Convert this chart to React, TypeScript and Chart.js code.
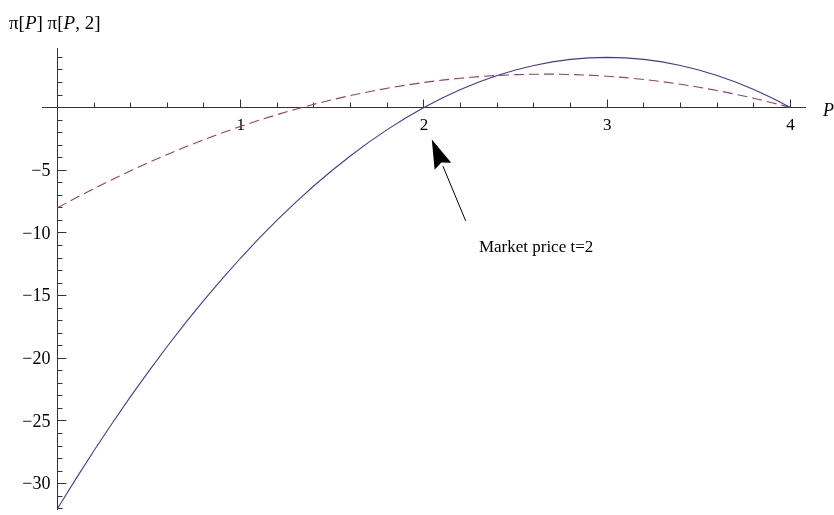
import React, { useEffect, useRef } from "react";
import { Chart, registerables } from "chart.js";

Chart.register(...registerables);

// ---- data ----
const priceP = [
  0, 0.1, 0.2, 0.3, 0.4, 0.5, 0.6, 0.7, 0.8, 0.9, 1.0, 1.1, 1.2, 1.3, 1.4, 1.5, 1.6, 1.7, 1.8, 1.9, 2.0,
  2.1, 2.2, 2.3, 2.4, 2.5, 2.6, 2.7, 2.8, 2.9, 3.0, 3.1, 3.2, 3.3, 3.4, 3.5, 3.6, 3.7, 3.8, 3.9, 4.0,
];
const profitP = [
  -32, -29.64, -27.36, -25.16, -23.04, -21, -19.04, -17.16, -15.36, -13.64, -12, -10.44, -8.96, -7.56, -6.24,
  -5, -3.84, -2.76, -1.76, -0.84, 0, 0.76, 1.44, 2.04, 2.56, 3, 3.36, 3.64, 3.84, 3.96, 4, 3.96, 3.84, 3.64,
  3.36, 3, 2.56, 2.04, 1.44, 0.76, 0,
];
const profitP2 = [
  -8, -7.215, -6.46, -5.735, -5.04, -4.375, -3.74, -3.135, -2.56, -2.015, -1.5, -1.015, -0.56, -0.135, 0.26,
  0.625, 0.96, 1.265, 1.54, 1.785, 2, 2.185, 2.34, 2.465, 2.56, 2.625, 2.66, 2.665, 2.64, 2.585, 2.5, 2.385,
  2.24, 2.065, 1.86, 1.625, 1.36, 1.065, 0.74, 0.385, 0,
];

const xTickValues = [1, 2, 3, 4];
const xTickLabels = ["1", "2", "3", "4"];
const yTickValues = [-5, -10, -15, -20, -25, -30];
const yTickLabels = ["\u22125", "\u221210", "\u221215", "\u221220", "\u221225", "\u221230"];

const xRange = [-0.084, 4.085];
const yRange = [-32.1, 4.75];

const arrowTip = [2.043, -2.54];
const arrowTail = [2.228, -9.04];
const annotationPos = [2.3, -11.5];
const annotationText = "Market price t=2";

const SERIF = '"Liberation Serif", "Times New Roman", serif';
const AXIS_COLOR = "#333333";

const axesPlugin = {
  id: "mathematicaAxes",
  beforeDatasetsDraw(chart: any) {
    const { ctx, chartArea, scales } = chart;
    const xs = scales.x;
    const ys = scales.y;
    const px = (v: number) => Math.floor(xs.getPixelForValue(v)) + 0.5;
    const py = (v: number) => Math.floor(ys.getPixelForValue(v)) + 0.5;
    const x0 = px(0);
    const y0 = py(0);
    ctx.save();
    ctx.strokeStyle = AXIS_COLOR;
    ctx.lineWidth = 1;
    ctx.beginPath();
    ctx.moveTo(chartArea.left, y0);
    ctx.lineTo(chartArea.right, y0);
    ctx.moveTo(x0, chartArea.top);
    ctx.lineTo(x0, chartArea.bottom);
    // x minor ticks every 0.2, major at integers
    for (let i = 0; i <= 20; i++) {
      const v = i * 0.2;
      const major = i % 5 === 0;
      const xp = px(v);
      ctx.moveTo(xp, y0);
      ctx.lineTo(xp, y0 - (major ? 8 : 5));
    }
    // y minor ticks every 1, major every 5
    for (let v = -32; v <= 4; v++) {
      const major = v % 5 === 0;
      const yp = py(v);
      ctx.moveTo(x0, yp);
      ctx.lineTo(x0 + (major ? 9 : 5), yp);
    }
    ctx.stroke();

    ctx.fillStyle = "#000";
    ctx.font = `17px ${SERIF}`;
    ctx.textAlign = "center";
    ctx.textBaseline = "top";
    xTickValues.forEach((v, i) => {
      ctx.fillText(xTickLabels[i], xs.getPixelForValue(v), y0 + 10);
    });
    ctx.textAlign = "right";
    ctx.textBaseline = "middle";
    ctx.font = `18px ${SERIF}`;
    yTickValues.forEach((v, i) => {
      ctx.fillText(yTickLabels[i], x0 - 7, ys.getPixelForValue(v) + 1);
    });

    // axis labels
    ctx.textAlign = "left";
    ctx.textBaseline = "alphabetic";
    ctx.font = `italic 18px ${SERIF}`;
    ctx.fillText("P", chartArea.right + 17, y0 + 8);

    const parts: [string, boolean][] = [
      ["\u03c0[", false],
      ["P", true],
      ["] \u03c0[", false],
      ["P", true],
      [", 2]", false],
    ];
    let tx = 9;
    const ty = chartArea.top - 19;
    parts.forEach(([t, it]) => {
      ctx.font = `${it ? "italic " : ""}19px ${SERIF}`;
      ctx.fillText(t, tx, ty);
      tx += ctx.measureText(t).width;
    });
    ctx.restore();
  },
  afterDatasetsDraw(chart: any) {
    const { ctx, scales } = chart;
    const xs = scales.x;
    const ys = scales.y;
    const tipX = xs.getPixelForValue(arrowTip[0]);
    const tipY = ys.getPixelForValue(arrowTip[1]);
    const tailX = xs.getPixelForValue(arrowTail[0]);
    const tailY = ys.getPixelForValue(arrowTail[1]);
    const ang = Math.atan2(tipY - tailY, tipX - tailX);
    const len = 29;
    const half = 9;
    const bx = tipX - len * Math.cos(ang);
    const by = tipY - len * Math.sin(ang);
    const nx = -Math.sin(ang);
    const ny = Math.cos(ang);
    ctx.save();
    ctx.strokeStyle = "#000";
    ctx.lineWidth = 1;
    ctx.beginPath();
    ctx.moveTo(tailX, tailY);
    ctx.lineTo(bx, by);
    ctx.stroke();
    ctx.fillStyle = "#000";
    ctx.beginPath();
    ctx.moveTo(tipX, tipY);
    ctx.lineTo(bx + nx * half, by + ny * half);
    ctx.lineTo(tipX - (len - 4) * Math.cos(ang), tipY - (len - 4) * Math.sin(ang));
    ctx.lineTo(bx - nx * half, by - ny * half);
    ctx.closePath();
    ctx.fill();

    ctx.font = `17px ${SERIF}`;
    ctx.textAlign = "left";
    ctx.textBaseline = "alphabetic";
    ctx.fillText(annotationText, xs.getPixelForValue(annotationPos[0]), ys.getPixelForValue(annotationPos[1]));
    ctx.restore();
  },
};

export default function App() {
  const ref = useRef<HTMLCanvasElement | null>(null);
  useEffect(() => {
    document.body.style.margin = "0";
    if (!ref.current) return;
    const chart = new Chart(ref.current, {
      type: "scatter",
      data: {
        datasets: [
          {
            label: "\u03c0[P]",
            data: priceP.map((p, i) => ({ x: p, y: profitP[i] })),
            showLine: true,
            borderColor: "#3d3d99",
            borderWidth: 1.1,
            pointRadius: 0,
            fill: false,
          },
          {
            label: "\u03c0[P, 2]",
            data: priceP.map((p, i) => ({ x: p, y: profitP2[i] })),
            showLine: true,
            borderColor: "#993d71",
            borderWidth: 1.1,
            borderDash: [10, 5],
            pointRadius: 0,
            fill: false,
          },
        ],
      },
      options: {
        animation: false,
        responsive: false,
        maintainAspectRatio: false,
        devicePixelRatio: 1,
        layout: { padding: { left: 42, right: 28, top: 48, bottom: 5 } },
        plugins: { legend: { display: false }, tooltip: { enabled: false } },
        scales: {
          x: { type: "linear", display: false, min: xRange[0], max: xRange[1] },
          y: { type: "linear", display: false, min: yRange[0], max: yRange[1] },
        },
      },
      plugins: [axesPlugin],
    });
    return () => chart.destroy();
  }, []);
  return (
    <div style={{ position: "absolute", left: 0, top: 0, width: 834, height: 515, background: "#fff" }}>
      <canvas ref={ref} width={834} height={515} style={{ width: 834, height: 515, display: "block" }} />
    </div>
  );
}
